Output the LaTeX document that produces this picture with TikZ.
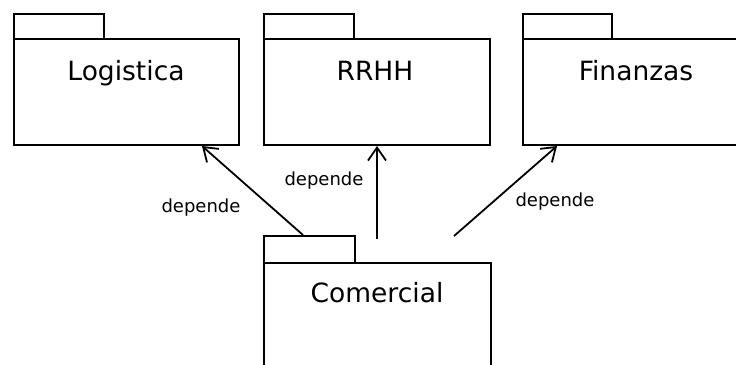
\documentclass[tikz,border=0pt]{standalone}
\usepackage{fontspec}
\setmainfont{DejaVu Sans}
\usetikzlibrary{arrows.meta,calc}
\begin{document}
\begin{tikzpicture}[x=1pt,y=-1pt,
  pkline/.style={draw=black,line width=2pt},
  tabbox/.style={pkline,rectangle,anchor=north west,inner sep=0pt,minimum width=90pt,minimum height=25pt},
  bodybox/.style={pkline,rectangle,anchor=north west,inner sep=0pt},
  title/.style={anchor=base,inner sep=0pt,font=\fontsize{26.5pt}{31pt}\selectfont},
  deplabel/.style={anchor=base,inner sep=0pt,font=\fontsize{18pt}{21pt}\selectfont},
  dep/.style={line width=1.8pt,-{Straight Barb[length=13pt,width=18pt,line width=1.8pt]}}]
\useasboundingbox (0,0) rectangle (736,364);
\clip (0,0) rectangle (736,364);
% Logistica
\node[tabbox] (logtab) at (13,13) {};
\node[bodybox,minimum width=225pt,minimum height=106pt] (log) at (13,38) {};
\node[title] (logt) at (126,80) {Logistica};
% RRHH
\node[tabbox] (rrtab) at (263,13) {};
\node[bodybox,minimum width=226pt,minimum height=106pt] (rr) at (263,38) {};
\node[title] (rrt) at (375,80) {RRHH};
% Finanzas
\node[tabbox,minimum width=89pt] (fintab) at (522,13) {};
\node[bodybox,minimum width=230pt,minimum height=106pt] (fin) at (522,38) {};
\node[title] (fint) at (636,80) {Finanzas};
% Comercial
\node[tabbox,minimum width=91pt,minimum height=27pt] (comtab) at (263,235) {};
\node[bodybox,minimum width=227pt,minimum height=120pt] (com) at (263,262) {};
\node[title] (comt) at (377,302) {Comercial};
% connectors
\coordinate (s1) at ($(comtab.north west)+(40,0)$);
\coordinate (e1) at ($(log.south west)+(189,0)$);
\coordinate (s2) at ($(rr.south)+(0,93)$);
\coordinate (s3) at ($(comtab.north east)+(98,1)$);
\coordinate (e3) at ($(fin.south west)+(35,0)$);
\draw[dep] (s1) -- (e1);
\draw[dep] (s2) -- (rr.south);
\draw[dep] (s3) -- (e3);
\node[deplabel] (l1) at (201,212) {depende};
\node[deplabel] (l2) at (324,185) {depende};
\node[deplabel] (l3) at (555,206) {depende};
\end{tikzpicture}
\end{document}
